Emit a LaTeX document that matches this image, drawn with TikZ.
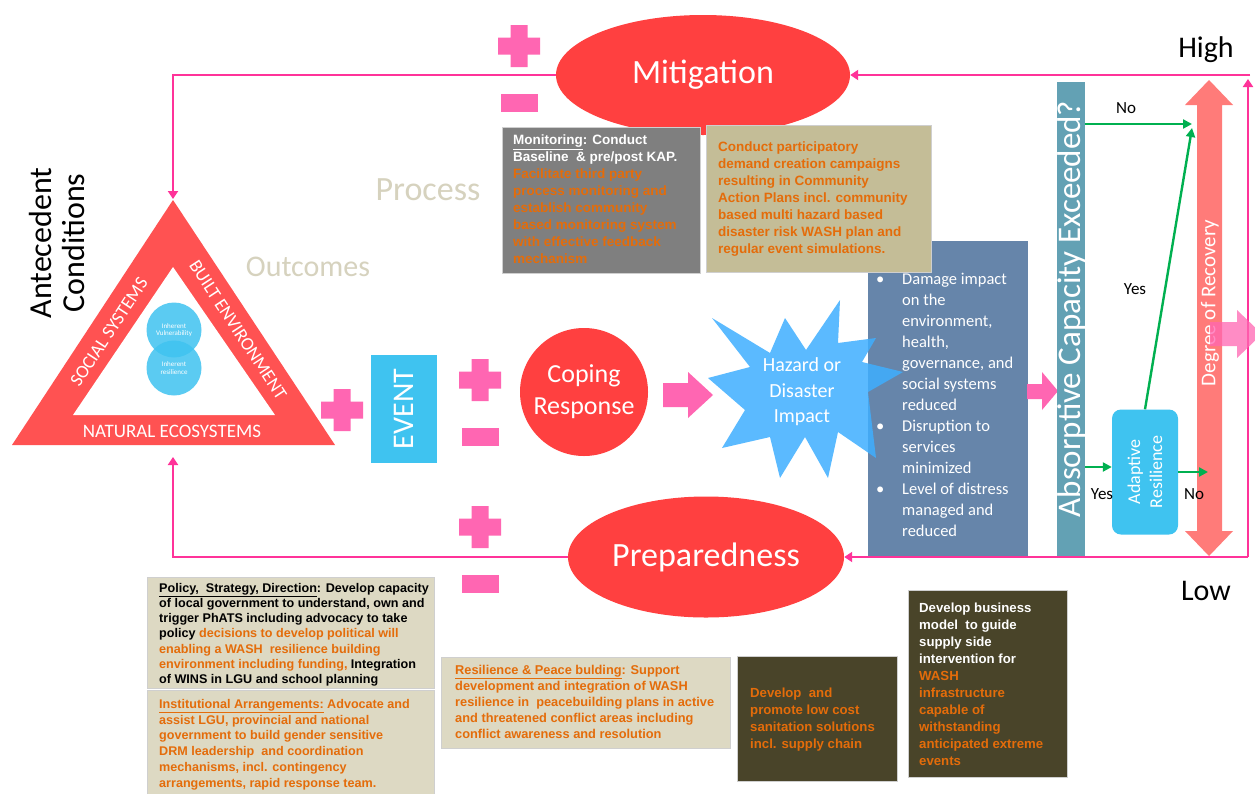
\documentclass[tikz,border=0pt]{standalone}
\usepackage{fontspec}
\setmainfont{Carlito}
\newfontfamily\arialf{Liberation Sans}
\usetikzlibrary{arrows.meta,shapes.geometric}
\definecolor{pinkln}{HTML}{FF3399}
\definecolor{pinkb}{HTML}{FF66B2}
\definecolor{redc}{HTML}{FF4040}
\definecolor{trired}{HTML}{FF5252}
\definecolor{cyanc}{HTML}{3FC3F0}
\definecolor{starc}{HTML}{3FAFFF}
\definecolor{impc}{HTML}{6685AA}
\definecolor{absc}{HTML}{63A1B4}
\definecolor{degc}{HTML}{FF7B79}
\definecolor{grn}{HTML}{00B050}
\definecolor{grayb}{HTML}{7F7F7F}
\definecolor{tanb}{HTML}{C4BD97}
\definecolor{beige}{HTML}{DDD9C3}
\definecolor{olive}{HTML}{494429}
\definecolor{orng}{HTML}{E46C0A}
\definecolor{faint}{HTML}{D6D2BE}
\definecolor{bord}{HTML}{CFCFCF}
\pgfdeclarelayer{bglines}
\pgfsetlayers{bglines,main}
\tikzset{
  plussign/.pic={\fill[pinkb] (-21,-8.5) rectangle (21,8.5) (-8.5,-21) rectangle (8.5,21);},
  minussign/.pic={\fill[pinkb] (-18.5,-9) rectangle (18.5,9);}
}
\begin{document}
\begin{tikzpicture}[x=1pt,y=-1pt,
  pl/.style={draw=pinkln, line width=2.6pt},
  ptip/.style={-{Triangle[width=10pt,length=8pt]}},
  gl/.style={draw=grn, line width=2.4pt, -{Triangle[width=9pt,length=9pt]}},
  redell/.style={ellipse, fill=redc, inner sep=0pt, text=white},
  boxbg/.style={rectangle, inner sep=0pt, draw=bord, line width=0.8pt},
  btxt/.style={anchor=north west, align=left, inner sep=0pt},
  lbl/.style={inner sep=0pt, font=\fontsize{17}{20}\selectfont}
]
\begin{pgfonlayer}{bglines}
\fill[white] (0,0) rectangle (1255,793);
\end{pgfonlayer}
\useasboundingbox (0,0) rectangle (1255,793);

% coordinates
\coordinate (apex) at (173,199);
\coordinate (tribot) at (173,457);
\coordinate (br) at (1248,557);
\coordinate (tr) at (1248,79);
\coordinate (tr2) at (1250,75);

% ellipses
\node[redell, minimum width=294, minimum height=120, font=\fontsize{34}{36}\selectfont] (mit) at (703,75) {Mitigation};
\node[redell, minimum width=276, minimum height=121, font=\fontsize{34}{36}\selectfont] (prep) at (706,557) {Preparedness};

% pink loop (behind)
\begin{pgfonlayer}{bglines}
\draw[pl,ptip] (mit.west) -| (apex);
\draw[pl,ptip] (prep.west) -| (tribot);
\draw[pl,ptip] (br) -- (prep.east);
\draw[pl,ptip] (br) -- (tr);
\draw[pl,ptip] (tr2) -- (mit.east);
\end{pgfonlayer}

% triangle
\fill[trired] (12,445) -- (335,445) -- (173,200) -- cycle;
\fill[white] (73,415) -- (275,415) -- (173,267) -- cycle;
\node[text=white, inner sep=0pt, font=\fontsize{19}{20}\selectfont] (nat) at (172,431) {NATURAL ECOSYSTEMS};
\node[text=white, inner sep=0pt, rotate=56.7, font=\fontsize{18.5}{20}\selectfont] (soc) at (109,332) {SOCIAL SYSTEMS};
\node[text=white, inner sep=0pt, rotate=-56.7, font=\fontsize{18.5}{20}\selectfont] (blt) at (238,330) {BUILT ENVIRONMENT};
\node[circle, fill=cyanc, fill opacity=0.85, text opacity=1, minimum size=55, inner sep=0pt, text=white, align=center, font=\fontsize{7}{8.5}\selectfont] (vul) at (174,330) {Inherent\\[-1pt]Vulnerability};
\node[circle, fill=cyanc, fill opacity=0.85, text opacity=1, minimum size=55, inner sep=0pt, text=white, align=center, font=\fontsize{7}{8.5}\selectfont] (res) at (174,368) {Inherent\\resilience};

\node[rotate=90, align=center, inner sep=0pt, font=\fontsize{32}{33}\selectfont] (ante) at (57,243) {Antecedent\\Conditions};
\node[text=faint, inner sep=0pt, font=\fontsize{34}{36}\selectfont] (proc) at (428,190) {Process};
\node[text=faint, inner sep=0pt, font=\fontsize{30}{32}\selectfont] (outc) at (308,267) {Outcomes};

% plus / minus signs
\pic (pA) at (519,46) {plussign};
\pic (mA) at (519,103) {minussign};
\pic (pB) at (342,410) {plussign};
\pic (pC) at (480,380) {plussign};
\pic (mC) at (480,437) {minussign};
\pic (pD) at (480,527) {plussign};
\pic (mD) at (480,584) {minussign};

% event and coping
\node[rectangle, fill=cyanc, minimum width=66, minimum height=108, inner sep=0pt] (event) at (404,409) {};
\node[rotate=90, text=white, inner sep=0pt, font=\fontsize{30}{32}\selectfont] (eventtxt) at (event) {EVENT};
\node[circle, fill=redc, minimum size=128, inner sep=0pt, text=white, align=center, font=\fontsize{26}{32}\selectfont] (cope) at (584,392) {Coping\\Response};

% block arrow coping -> hazard
\fill[pinkb] (663,383) -- (688,383) -- (688,372) -- (713,395) -- (688,418) -- (688,407) -- (663,407) -- cycle;

% impact box
\node[rectangle, fill=impc, minimum width=160, minimum height=315, inner sep=0pt] (impact) at (948,398.5) {};

% top boxes
\node[boxbg, fill=grayb, minimum width=198, minimum height=146] (mon) at (601,200) {};
\node[btxt, text=white, font=\arialf\bfseries\fontsize{13.5}{17}\selectfont] (montxt) at (513,135) {\underline{Monitoring}: Conduct\\Baseline \ \& pre/post KAP.\\
\textcolor{orng}{Facilitate third party}\\
\textcolor{orng}{process monitoring and}\\
\textcolor{orng}{establish community}\\
\textcolor{orng}{based monitoring system}\\
\textcolor{orng}{with effective feedback}\\
\textcolor{orng}{mechanism}};
\node[boxbg, fill=tanb, minimum width=225, minimum height=147] (cdt) at (818.5,198.5) {};
\node[btxt, text=orng, font=\arialf\bfseries\fontsize{13.5}{17}\selectfont] (cdttxt) at (718,142) {Conduct participatory\\demand creation campaigns\\resulting in Community\\Action Plans incl. community\\based multi hazard based\\disaster risk WASH plan and\\regular event simulations.};

% hazard star
\fill[starc, fill opacity=0.85] (712,318) -- (770,353) -- (785,318) -- (806,350) -- (840,300) -- (838,343) -- (876,338) -- (862,362) -- (903,372) -- (868,392) -- (876,458) -- (838,432) -- (828,478) -- (805,437) -- (780,478) -- (770,437) -- (722,448) -- (745,410) -- (708,378) -- (750,367) -- cycle;
\node[align=center, text=white, inner sep=0pt, font=\fontsize{20}{25.5}\selectfont] (haz) at (802,392) {Hazard or\\Disaster\\Impact};

% impact text (above the star)
\node[anchor=north west, inner sep=0pt, text=white, font=\fontsize{16.5}{21}\selectfont] (imptxt) at (876,270) {\begin{tabular}{@{}p{26pt}@{}l@{}}
\textbullet & Damage impact\\
 & on the\\
 & environment,\\
 & health,\\
 & governance, and\\
 & social systems\\
 & reduced\\
\textbullet & Disruption to\\
 & services\\
 & minimized\\
\textbullet & Level of distress\\
 & managed and\\
 & reduced
\end{tabular}};

% block arrow impact -> absorptive
\fill[pinkb] (1027,384) -- (1042,384) -- (1042,372) -- (1058,391) -- (1042,410) -- (1042,399) -- (1027,399) -- cycle;

% absorptive bar
\node[rectangle, fill=absc, minimum width=28, minimum height=474, inner sep=0pt] (abs) at (1071,319) {};
\node[rotate=90, text=white, inner sep=0pt, font=\fontsize{33}{34}\selectfont] (abstxt) at (1072,309) {Absorptive Capacity Exceeded?};

% degree of recovery double arrow
\fill[degc] (1209,80) -- (1233,105) -- (1222,105) -- (1222,531) -- (1233,531) -- (1209,556) -- (1185,531) -- (1197,531) -- (1197,105) -- (1185,105) -- cycle;
\node[rotate=90, text=white, inner sep=0pt, font=\fontsize{21}{22}\selectfont] (deg) at (1210,303) {Degree of Recovery};
\fill[pinkb, fill opacity=0.75] (1210,322) -- (1237,322) -- (1237,310) -- (1262,334) -- (1237,358) -- (1237,346) -- (1210,346) -- cycle;

% adaptive resilience
\node[rectangle, rounded corners=9pt, fill=cyanc, minimum width=66, minimum height=125, inner sep=0pt] (adapt) at (1145,472) {};
\node[rotate=90, text=white, align=center, inner sep=0pt, font=\fontsize{18}{22}\selectfont] (adapttxt) at (adapt) {Adaptive\\Resilience};

% green arrows
\coordinate (gno) at (1192,124);
\coordinate (gyes) at (1192,128);
\coordinate (gno2) at (1208,472);
\coordinate (gy2) at (1085,467);
\draw[gl] (abs.east |- gno) -- (gno);
\draw[gl] (adapt.north) -- (gyes);
\draw[gl] (gy2) -- (adapt.west |- gy2);
\draw[gl] (adapt.east) -- (gno2);
\node[lbl] (lno1) at (1126,108) {No};
\node[lbl] (lyes1) at (1135,289) {Yes};
\node[lbl] (lyes2) at (1102,494) {Yes};
\node[lbl] (lno2) at (1194,494) {No};

\node[inner sep=0pt, font=\fontsize{30}{32}\selectfont] (high) at (1206,50) {High};
\node[inner sep=0pt, font=\fontsize{30}{32}\selectfont] (low) at (1206,591) {Low};

% bottom boxes
\node[boxbg, fill=beige, minimum width=287, minimum height=111] (pol) at (290.5,632.5) {};
\node[btxt, font=\arialf\bfseries\fontsize{12.6}{15.2}\selectfont] (poltxt) at (159,583) {\underline{Policy, \ Strategy, Direction}: Develop capacity\\of local government to understand, own and\\trigger PhATS including advocacy to take\\policy \textcolor{orng}{decisions to develop political will}\\\textcolor{orng}{enabling a WASH \ resilience building}\\\textcolor{orng}{environment including funding,} Integration\\of WINS in LGU and school planning};
\node[boxbg, fill=beige, minimum width=287, minimum height=106] (inst) at (290.5,743) {};
\node[btxt, text=orng, font=\arialf\bfseries\fontsize{12.6}{15.8}\selectfont] (insttxt) at (159,699) {\underline{Institutional Arrangements:} Advocate and\\assist LGU, provincial and national\\government to build gender sensitive\\DRM leadership \ and coordination\\mechanisms, incl. contingency\\arrangements, rapid response team.};
\node[boxbg, fill=beige, minimum width=289, minimum height=91] (peace) at (585.5,702.5) {};
\node[btxt, text=orng, font=\arialf\bfseries\fontsize{12.8}{15.9}\selectfont] (peacetxt) at (455,665) {\underline{Resilience \& Peace bulding}: Support\\development and integration of WASH\\resilience in \ peacebuilding plans in active\\and threatened conflict areas including\\conflict awareness and resolution};
\node[boxbg, fill=olive, minimum width=160, minimum height=125] (sani) at (817,718.5) {};
\node[btxt, text=orng, font=\arialf\bfseries\fontsize{13.2}{17}\selectfont] (sanitxt) at (750,688) {Develop \ and\\promote low cost\\sanitation solutions\\incl. supply chain};
\node[boxbg, fill=olive, minimum width=159, minimum height=187] (biz) at (987.5,683.5) {};
\node[btxt, text=white, font=\arialf\bfseries\fontsize{13.2}{17}\selectfont] (biztxt) at (919,603) {Develop business\\model \ to guide\\supply side\\intervention for\\\textcolor{orng}{WASH}\\\textcolor{orng}{infrastructure}\\\textcolor{orng}{capable of}\\\textcolor{orng}{withstanding}\\\textcolor{orng}{anticipated extreme}\\\textcolor{orng}{events}};
\end{tikzpicture}
\end{document}
